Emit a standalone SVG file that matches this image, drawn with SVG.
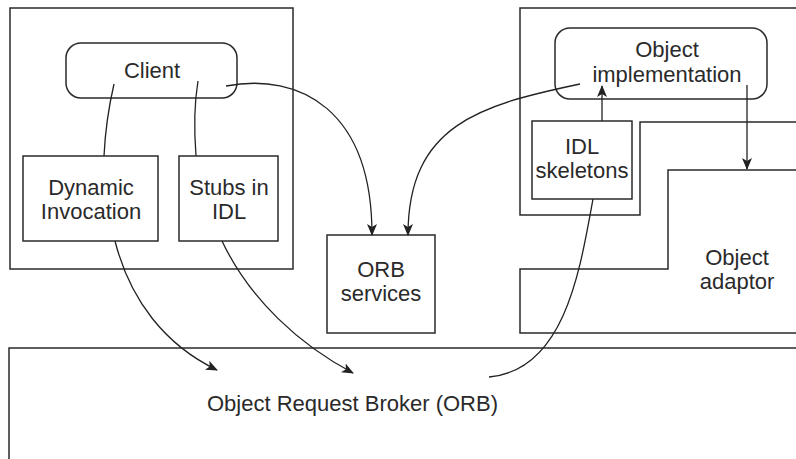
<svg xmlns="http://www.w3.org/2000/svg" width="796" height="459" viewBox="0 0 796 459">
<defs>
<marker id="ah" viewBox="0 0 12 10" refX="11" refY="5" markerWidth="12" markerHeight="10" markerUnits="userSpaceOnUse" orient="auto">
<path d="M0,0 L12,5 L0,10 L3,5 Z" fill="#222"/>
</marker>
<style>
.s{fill:none;stroke:#2a2a2a;stroke-width:1.5}
.b{fill:#fff;stroke:#2a2a2a;stroke-width:1.5}
.c{fill:none;stroke:#222;stroke-width:1.3}
text{font-family:"Liberation Sans",Arial,sans-serif;font-size:22px;fill:#2a2a2a;text-anchor:middle}
</style>
</defs>
<g id="client-side">
<rect class="s" x="10" y="8" width="283" height="261"/>
</g>
<g id="server-side">
<path class="s" d="M796,8 H520 V215 H640 V122 H796"/>
</g>
<g id="object-adaptor">
<path class="s" d="M796,170 H668 V269 H520 V333 H796"/>
<text x="737" y="265">Object</text>
<text x="737" y="289">adaptor</text>
</g>
<g id="orb">
<path class="s" d="M796,348 H9 V459"/>
<text x="207" y="411" style="text-anchor:start">Object Request Broker (ORB)</text>
</g>
<g id="client">
<rect class="b" x="66" y="43" width="171" height="55" rx="15"/>
<text x="152" y="78">Client</text>
</g>
<g id="dynamic-invocation">
<rect class="b" x="23" y="156" width="135" height="85"/>
<text x="91" y="195">Dynamic</text>
<text x="91" y="219">Invocation</text>
</g>
<g id="stubs">
<rect class="b" x="179" y="156" width="99" height="85"/>
<text x="229" y="195">Stubs in</text>
<text x="229" y="219">IDL</text>
</g>
<g id="orb-services">
<rect class="b" x="327" y="235" width="108" height="98"/>
<text x="381" y="277">ORB</text>
<text x="381" y="301">services</text>
</g>
<g id="object-implementation">
<rect class="b" x="555" y="28" width="212" height="71" rx="15"/>
<text x="667" y="57">Object</text>
<text x="667" y="82">implementation</text>
</g>
<g id="idl-skeletons">
<rect class="b" x="532" y="121" width="100" height="78"/>
<text x="582" y="154">IDL</text>
<text x="582" y="178">skeletons</text>
</g>
<g id="connectors">
<path class="c" d="M114,84 C108,110 105,135 104,156"/>
<path class="c" d="M198,81 C194,105 194,130 196,156"/>
<path class="c" d="M226,86 C300,72 372,110 372,235" marker-end="url(#ah)"/>
<path class="c" d="M580,84 C480,105 408,125 408,235" marker-end="url(#ah)"/>
<path class="c" d="M602,121 L602,86" marker-end="url(#ah)"/>
<path class="c" d="M747,85 L747,169" marker-end="url(#ah)"/>
<path class="c" d="M115,241 C130,300 165,345 217,370" marker-end="url(#ah)"/>
<path class="c" d="M222,241 C250,300 300,345 353,373" marker-end="url(#ah)"/>
<path class="c" d="M593,199 C580,270 565,370 489,377"/>
</g>
</svg>
